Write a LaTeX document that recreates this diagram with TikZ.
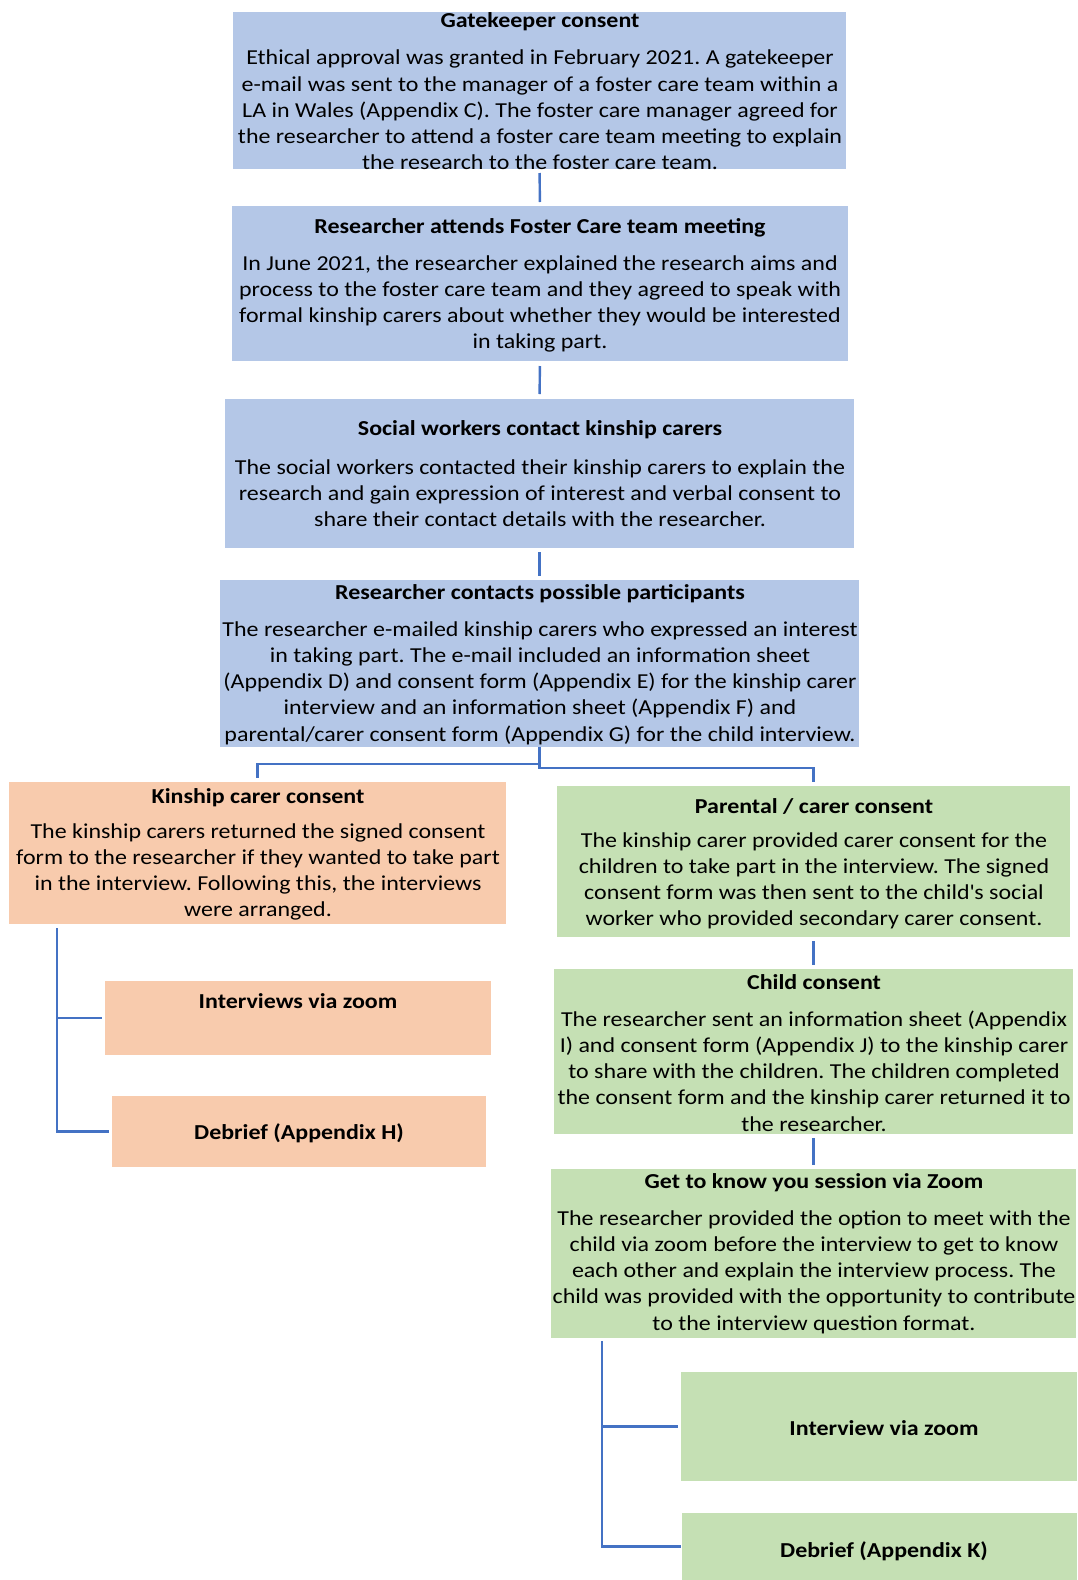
\documentclass[tikz,border=0pt]{standalone}
\usepackage{fontspec}
\setmainfont{Carlito}[FakeStretch=1.125]
\frenchspacing
\definecolor{bxblue}{HTML}{B4C7E7}
\definecolor{bxorange}{HTML}{F8CBAD}
\definecolor{bxgreen}{HTML}{C5E0B4}
\definecolor{connc}{HTML}{4472C4}
\tikzset{
  box/.style={draw=none, inner sep=0pt, outer sep=0pt},
  txt/.style={font=\fontsize{21.3}{26.2}\selectfont\frenchspacing, align=center, inner sep=0pt},
  ttl/.style={font=\fontsize{21.3}{26.2}\selectfont\bfseries, align=center, inner sep=0pt},
  link/.style={draw=connc, line width=2.4pt},
}
\begin{document}
\begin{tikzpicture}[x=1pt, y=-1pt]
\useasboundingbox (0,0) rectangle (1077,1580);
% boxes
\node[box, fill=bxblue, minimum width=613pt, minimum height=157pt] (b1) at (539.5,90.5) {};
\node[box, fill=bxblue, minimum width=616pt, minimum height=155pt] (b2) at (540,283.5) {};
\node[box, fill=bxblue, minimum width=629pt, minimum height=149pt] (b3) at (539.5,473.5) {};
\node[box, fill=bxblue, minimum width=639pt, minimum height=167pt] (b4) at (539.5,663.5) {};
\node[box, fill=bxorange, minimum width=497pt, minimum height=142pt] (b5) at (257.5,853) {};
\node[box, fill=bxgreen, minimum width=513pt, minimum height=151pt] (b6) at (813.5,861.5) {};
\node[box, fill=bxorange, minimum width=386pt, minimum height=74pt] (b7) at (298,1018) {};
\node[box, fill=bxorange, minimum width=374pt, minimum height=71pt] (b8) at (299,1131.5) {};
\node[box, fill=bxgreen, minimum width=519pt, minimum height=165pt] (b9) at (813.5,1051.5) {};
\node[box, fill=bxgreen, minimum width=525pt, minimum height=169pt] (b10) at (813.5,1253.5) {};
\node[box, fill=bxgreen, minimum width=396pt, minimum height=109pt] (b11) at (879,1426.5) {};
\node[box, fill=bxgreen, minimum width=395pt, minimum height=67pt] (b12) at (879.5,1546.5) {};
% texts
\node[ttl] (h1) at (540,22) {Gatekeeper consent};
\node[txt] (t1) at (540,110) {Ethical approval was granted in February 2021. A gatekeeper\\e-mail was sent to the manager of a foster care team within a\\LA in Wales (Appendix C). The foster care manager agreed for\\the researcher to attend a foster care team meeting to explain\\the research to the foster care team.};
\node[ttl] (h2) at (540,228) {Researcher attends Foster Care team meeting};
\node[txt] (t2) at (540,304) {In June 2021, the researcher explained the research aims and\\process to the foster care team and they agreed to speak with\\formal kinship carers about whether they would be interested\\in taking part.};
\node[ttl] (h3) at (540,430) {Social workers contact kinship carers};
\node[txt] (t3) at (540,493) {The social workers contacted their kinship carers to explain the\\research and gain expression of interest and verbal consent to\\share their contact details with the researcher.};
\node[ttl] (h4) at (540,594) {Researcher contacts possible participants};
\node[txt] (t4) at (540,683) {The researcher e-mailed kinship carers who expressed an interest\\in taking part. The e-mail included an information sheet\\(Appendix D) and consent form (Appendix E) for the kinship carer\\interview and an information sheet (Appendix F) and\\parental/carer consent form (Appendix G) for the child interview.};
\node[ttl] (h5) at (258,798) {Kinship carer consent};
\node[txt] (t5) at (258,872) {The kinship carers returned the signed consent\\form to the researcher if they wanted to take part\\in the interview. Following this, the interviews\\were arranged.};
\node[ttl] (h6) at (814,806) {Parental / carer consent};
\node[txt] (t6) at (814,881) {The kinship carer provided carer consent for the\\children to take part in the interview. The signed\\consent form was then sent to the child\textquotesingle s social\\worker who provided secondary carer consent.};
\node[ttl] (h7) at (298,1001) {Interviews via zoom};
\node[ttl] (h8) at (299,1133) {Debrief (Appendix H)};
\node[ttl] (h9) at (814,982) {Child consent};
\node[txt] (t9) at (814,1071) {The researcher sent an information sheet (Appendix\\I) and consent form (Appendix J) to the kinship carer\\to share with the children. The children completed\\the consent form and the kinship carer returned it to\\the researcher.};
\node[ttl] (h10) at (814,1183) {Get to know you session via Zoom};
\node[txt] (t10) at (814,1272) {The researcher provided the option to meet with the\\child via zoom before the interview to get to know\\each other and explain the interview process. The\\child was provided with the opportunity to contribute\\to the interview question format.};
\node[ttl] (h11) at (884,1428) {Interview via zoom};
\node[ttl] (h12) at (884,1551) {Debrief (Appendix K)};
% connectors
\draw[link, shorten <=4pt, shorten >=4pt] (b1.south) -- (b2.north);
\draw[link, shorten <=5pt, shorten >=5pt] (b2.south) -- (b3.north);
\draw[link, shorten <=4pt, shorten >=4pt] (b3.south) -- (b4.north);
\draw[link, shorten >=4pt] (b4.south) -- ++(0,17) -| (b5.north);
\draw[link, shorten >=4pt] (b4.south) -- ++(0,21) -| (b6.north);
\draw[link, shorten <=4pt, shorten >=4pt] (b6.south) -- (b9.north);
\draw[link, shorten <=4pt, shorten >=4pt] (b9.south) -- (b10.north);
\draw[link, shorten >=3pt] ([xshift=48pt,yshift=-4pt]b5.south west) |- (b7.west);
\draw[link, shorten >=3pt] ([xshift=48pt,yshift=-4pt]b5.south west) |- (b8.west);
\draw[link, shorten >=3pt] ([xshift=51pt,yshift=-3pt]b10.south west) |- (b11.west);
\draw[link, shorten >=1pt] ([xshift=51pt,yshift=-3pt]b10.south west) |- (b12.west);
\end{tikzpicture}
\end{document}
